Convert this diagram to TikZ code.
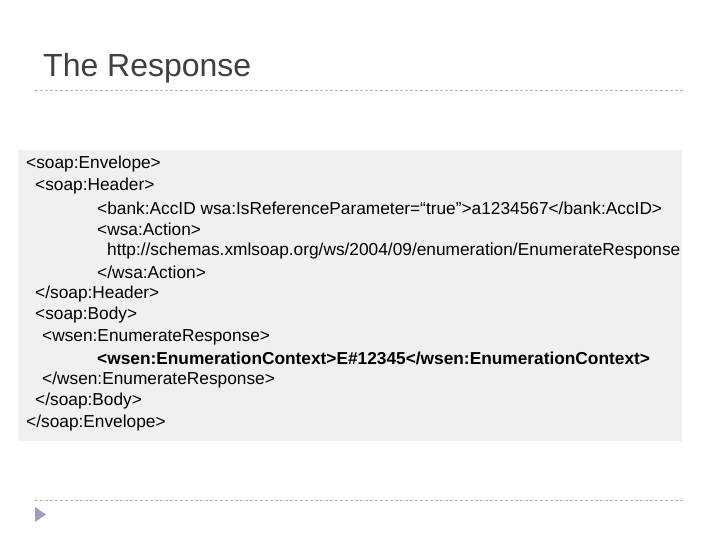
\documentclass[tikz,border=0pt]{standalone}
\usepackage{fontspec}
\setmainfont{Liberation Sans}
\begin{document}
\begin{tikzpicture}[x=1pt,y=-1pt,
  code/.style={anchor=west,inner sep=0pt,font=\fontsize{17.3}{19}\selectfont},
  rule/.style={draw=gray!55,dashed,dash pattern=on 3pt off 2pt,line width=0.8pt}]
\useasboundingbox (0,0) rectangle (720,540);
\fill[white] (0,0) rectangle (720,540);
\node[anchor=west,inner sep=0pt,text=black!75,font=\fontsize{32}{35}\selectfont] (title) at (43,68) {The Response};
\coordinate (t1) at (35,90); \coordinate (t2) at (685,90);
\draw[rule] (t1) -- (t2);
\coordinate (b1) at (35,500); \coordinate (b2) at (685,500);
\draw[rule] (b1) -- (b2);
\fill[black!6] (18,150) rectangle (682,441);
\fill[blue!25!gray!60] (35,507) -- (46,514.5) -- (35,522) -- cycle;
\node[code] (l1) at (26,164) {<soap:Envelope>};
\node[code] (l2) at (35,186) {<soap:Header>};
\node[code] (l3) at (97,208) {<bank:AccID wsa:IsReferenceParameter=“true”>a1234567</bank:AccID>};
\node[code] (l4) at (97,229) {<wsa:Action>};
\node[code] (l5) at (107,251) {http://schemas.xmlsoap.org/ws/2004/09/enumeration/EnumerateResponse};
\node[code] (l6) at (97,272) {</wsa:Action>};
\node[code] (l7) at (35,294) {</soap:Header>};
\node[code] (l8) at (35,315) {<soap:Body>};
\node[code] (l9) at (42,337) {<wsen:EnumerateResponse>};
\node[code,font=\fontsize{17.3}{19}\selectfont\bfseries] (l10) at (97,358) {<wsen:EnumerationContext>E\#12345</wsen:EnumerationContext>};
\node[code] (l11) at (42,380) {</wsen:EnumerateResponse>};
\node[code] (l12) at (35,401) {</soap:Body>};
\node[code] (l13) at (26,423) {</soap:Envelope>};
\end{tikzpicture}
\end{document}
